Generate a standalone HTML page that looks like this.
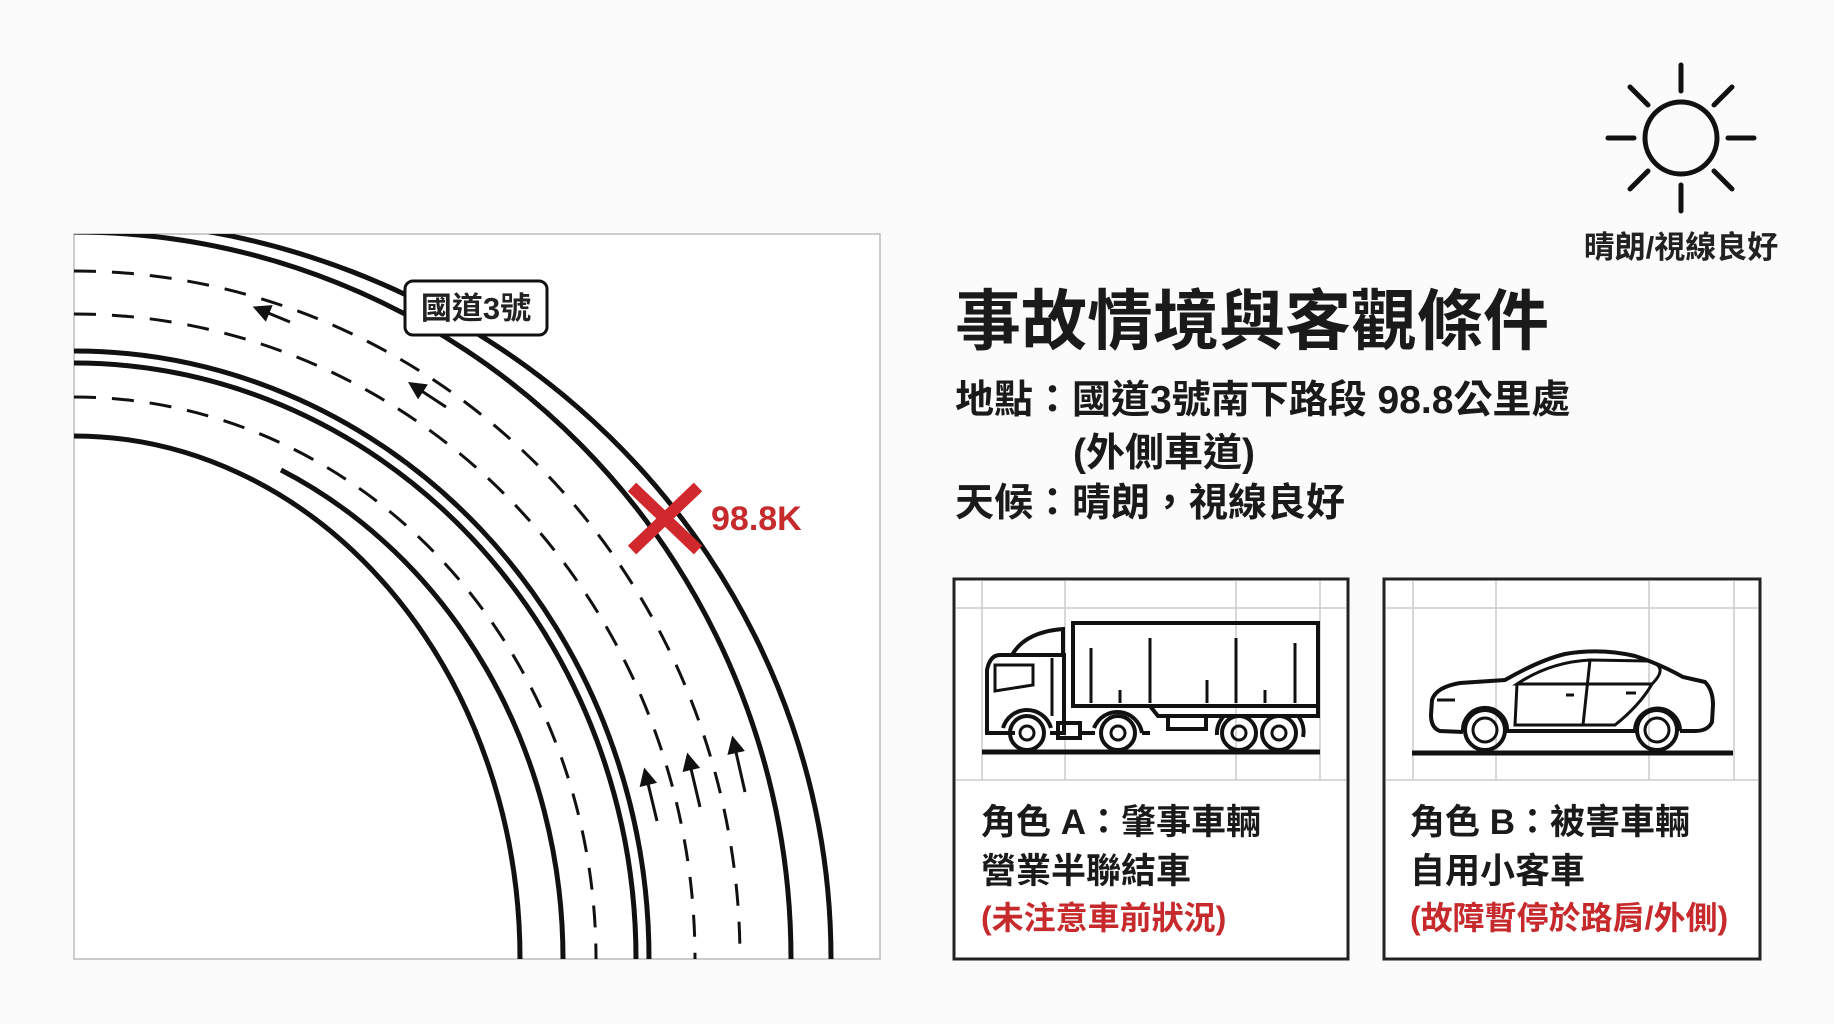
<!DOCTYPE html>
<html><head><meta charset="utf-8"><style>
html,body{margin:0;padding:0;background:#fbfbfb;}
svg{display:block;}
text{font-family:"Liberation Sans","Noto Sans CJK TC",sans-serif;}
</style></head><body>
<svg width="1834" height="1024" viewBox="0 0 1834 1024" xmlns="http://www.w3.org/2000/svg">
<defs>
<clipPath id="mc"><rect x="74" y="234" width="806" height="725"/></clipPath>
<marker id="ah" viewBox="0 0 10 10" refX="8" refY="5" markerWidth="6" markerHeight="6" orient="auto-start-reverse"><path d="M0,0 L10,5 L0,10 z" fill="#111"/></marker>
</defs>
<rect x="74" y="234" width="806" height="725" fill="#fff" stroke="#bbb" stroke-width="1.5"/>
<g clip-path="url(#mc)" fill="none" stroke="#111">
<path d="M74 220 A757 739 0 0 1 831 959" stroke-width="5"/>
<path d="M74 232 A717 727 0 0 1 791 959" stroke-width="5"/>
<path d="M74 351 A575 608 0 0 1 649 959" stroke-width="5"/>
<path d="M74 363 A562 596 0 0 1 636 959" stroke-width="5"/>
<path d="M74 436 A446 523 0 0 1 520 959" stroke-width="5"/>
<path d="M281 470 A489 540 0 0 1 563 959" stroke-width="5"/>
<path d="M74 271 A666 688 0 0 1 740 959" stroke-width="3" stroke-dasharray="22 16"/>
<path d="M74 314 A621 645 0 0 1 695 959" stroke-width="3" stroke-dasharray="22 16"/>
<path d="M74 397 A522 562 0 0 1 596 959" stroke-width="3" stroke-dasharray="22 16"/>
</g>
<g stroke="#111" stroke-width="3" fill="none">
<line x1="290" y1="322" x2="256" y2="308" marker-end="url(#ah)"/>
<line x1="446" y1="407" x2="411" y2="384" marker-end="url(#ah)"/>
<line x1="657" y1="821" x2="645" y2="771" marker-end="url(#ah)"/>
<line x1="700" y1="807" x2="688" y2="756" marker-end="url(#ah)"/>
<line x1="745" y1="792" x2="733" y2="739" marker-end="url(#ah)"/>
</g>
<rect x="405" y="281" width="142" height="54" rx="8" fill="#fff" stroke="#111" stroke-width="3"/>
<text x="476" y="319" font-size="31" font-weight="bold" text-anchor="middle" fill="#222">國道3號</text>
<g stroke="#d0282c" stroke-width="12"><line x1="632" y1="487" x2="698" y2="550"/><line x1="698" y1="487" x2="632" y2="550"/></g>
<text x="711" y="530" font-size="34" font-weight="bold" fill="#c62a2d">98.8K</text>

<g stroke="#111" stroke-width="5" stroke-linecap="round" fill="none">
<circle cx="1681" cy="138" r="36"/>
<line x1="1681" y1="91" x2="1681" y2="65"/><line x1="1681" y1="185" x2="1681" y2="211"/>
<line x1="1634" y1="138" x2="1608" y2="138"/><line x1="1728" y1="138" x2="1754" y2="138"/>
<line x1="1648" y1="105" x2="1630" y2="87"/><line x1="1714" y1="105" x2="1732" y2="87"/>
<line x1="1648" y1="171" x2="1630" y2="189"/><line x1="1714" y1="171" x2="1732" y2="189"/>
</g>
<text x="1681" y="258" font-size="31" font-weight="bold" text-anchor="middle" fill="#222">晴朗/視線良好</text>

<text x="955" y="344" font-size="66" font-weight="bold" fill="#1a1a1a">事故情境與客觀條件</text>
<g font-size="39" font-weight="bold" fill="#1a1a1a">
<text x="955" y="413">地點：國道3號南下路段 98.8公里處</text>
<text x="1073" y="466">(外側車道)</text>
<text x="955" y="516">天候：晴朗，視線良好</text>
</g>

<rect x="954" y="579" width="394" height="380" fill="#fff" stroke="#222" stroke-width="3"/>
<g stroke="#ccc" stroke-width="1.5">
<line x1="956" y1="608" x2="1346" y2="608"/><line x1="956" y1="780" x2="1346" y2="780"/>
<line x1="982" y1="581" x2="982" y2="780"/><line x1="1065" y1="581" x2="1065" y2="780"/>
<line x1="1236" y1="581" x2="1236" y2="780"/><line x1="1320" y1="581" x2="1320" y2="780"/>
</g>
<g stroke="#111" stroke-width="4" fill="none">
<line x1="982" y1="752" x2="1320" y2="752" stroke-width="5"/>
<rect x="1073" y="623" width="245" height="83"/>
<line x1="1091" y1="648" x2="1091" y2="703" stroke-width="3"/><line x1="1120" y1="690" x2="1120" y2="703" stroke-width="3"/>
<line x1="1150" y1="638" x2="1150" y2="703" stroke-width="3"/><line x1="1207" y1="680" x2="1207" y2="703" stroke-width="3"/>
<line x1="1236" y1="638" x2="1236" y2="703" stroke-width="3"/><line x1="1265" y1="690" x2="1265" y2="703" stroke-width="3"/>
<line x1="1295" y1="643" x2="1295" y2="703" stroke-width="3"/>
<path d="M1150 706 L1158 716 L1318 716 L1318 706"/>
<rect x="1168" y="716" width="38" height="13"/>
<path d="M1015 733 L987 733 L987 670 Q990 655 1000 655 L1064 655 L1064 733 L1050 733"/>
<path d="M1012 655 Q1025 632 1063 629 L1063 655"/>
<path d="M995 665 L1033 665 L1033 685 L995 691 Z" stroke-width="3"/>
<line x1="1052" y1="658" x2="1052" y2="716" stroke-width="3"/>
<rect x="1058" y="723" width="22" height="15"/>
<path d="M1080 733 L1095 733"/><path d="M1142 733 L1150 733"/>
<circle cx="1027" cy="733" r="17"/><circle cx="1027" cy="733" r="7" stroke-width="3"/>
<circle cx="1118" cy="733" r="17"/><circle cx="1118" cy="733" r="7" stroke-width="3"/>
<circle cx="1239" cy="733" r="17"/><circle cx="1239" cy="733" r="7" stroke-width="3"/>
<circle cx="1279" cy="733" r="17"/><circle cx="1279" cy="733" r="7" stroke-width="3"/>
<path d="M1003 728 A25 25 0 0 1 1051 728"/><path d="M1094 728 A25 25 0 0 1 1142 733"/>
<path d="M1217 735 A25 25 0 0 1 1224 716"/><path d="M1298 716 A25 25 0 0 1 1303 737"/>
</g>
<g font-size="35" font-weight="bold">
<text x="981" y="834" fill="#1a1a1a">角色 A：肇事車輛</text>
<text x="981" y="883" fill="#1a1a1a">營業半聯結車</text>
<text x="981" y="929" font-size="32" fill="#c62a2d">(未注意車前狀況)</text>
</g>

<rect x="1384" y="579" width="376" height="380" fill="#fff" stroke="#222" stroke-width="3"/>
<g stroke="#ccc" stroke-width="1.5">
<line x1="1386" y1="608" x2="1758" y2="608"/><line x1="1386" y1="780" x2="1758" y2="780"/>
<line x1="1413" y1="581" x2="1413" y2="780"/><line x1="1496" y1="581" x2="1496" y2="780"/>
<line x1="1649" y1="581" x2="1649" y2="780"/><line x1="1734" y1="581" x2="1734" y2="780"/>
</g>
<g stroke="#111" stroke-width="4" fill="none">
<line x1="1412" y1="753" x2="1733" y2="753" stroke-width="5"/>
<path d="M1463 732 L1440 731 Q1431 728 1431 715 L1432 700 Q1436 687 1460 683 L1505 680 Q1540 660 1565 654 Q1600 648 1635 656 Q1660 664 1683 677 L1705 682 Q1713 690 1713 705 L1712 722 Q1708 731 1695 731 L1680 731"/>
<path d="M1463 732 A22 22 0 0 1 1507 728 L1507 731 L1635 731 A22 22 0 0 1 1680 731"/>
<path d="M1517 684 Q1550 662 1590 660 L1648 661 Q1670 666 1652 684 Z" stroke-width="3"/>
<path d="M1517 684 L1515 725 L1615 725 Q1640 705 1652 684" stroke-width="3"/>
<line x1="1590" y1="660" x2="1583" y2="725" stroke-width="3"/>
<line x1="1566" y1="695" x2="1574" y2="695" stroke-width="3"/><line x1="1626" y1="693" x2="1636" y2="693" stroke-width="3"/>
<path d="M1437 700 L1455 700" stroke-width="3"/>
<circle cx="1485" cy="730" r="20"/><circle cx="1485" cy="730" r="12" stroke-width="3"/>
<circle cx="1657" cy="730" r="20"/><circle cx="1657" cy="730" r="12" stroke-width="3"/>
</g>
<g font-size="35" font-weight="bold">
<text x="1410" y="834" fill="#1a1a1a">角色 B：被害車輛</text>
<text x="1410" y="883" fill="#1a1a1a">自用小客車</text>
<text x="1410" y="929" font-size="32" fill="#c62a2d">(故障暫停於路肩/外側)</text>
</g>
</svg>
</body></html>
